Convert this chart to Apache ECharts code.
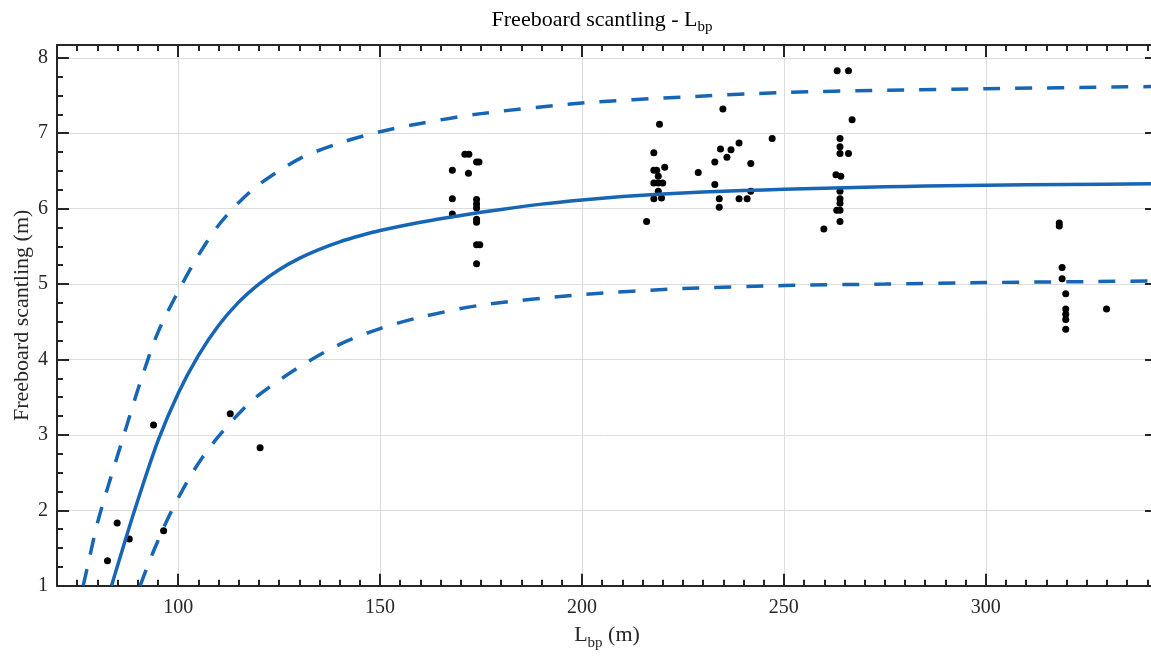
<!DOCTYPE html>
<html>
<head>
<meta charset="utf-8">
<script src="https://cdn.jsdelivr.net/npm/echarts@6/dist/echarts.min.js"></script>
<style>html,body{margin:0;padding:0;background:#fff}#chart{width:1151px;height:659px}</style>
</head>
<body>
<div id="chart"></div>
<script>
// ---- data ----
const lbp = [82.5, 84.9, 87.9, 93.9, 96.4, 112.9, 120.3,
  167.9, 167.9, 167.9, 171.0, 172.0, 171.9, 173.9, 174.5, 173.9, 173.9, 173.9, 173.9, 173.9, 173.9, 174.7, 173.9,
  216.0, 217.8, 219.2, 217.8, 218.5, 220.5, 218.9, 217.8, 218.9, 220.0, 218.9, 217.8, 219.7,
  228.8, 232.9, 232.9, 234.0, 234.0, 234.3, 234.9, 235.9, 236.9, 238.9, 238.9, 240.9, 241.8, 241.8, 247.1,
  259.9, 263.2, 266.0, 266.9, 263.9, 263.9, 263.9, 266.0, 262.9, 264.1, 263.9, 263.9, 263.9, 263.1, 263.9, 263.9,
  318.2, 318.2, 318.9, 318.9, 319.8, 319.8, 319.8, 319.8, 319.8, 329.9];
const freeboard = [1.33, 1.83, 1.62, 3.13, 1.73, 3.28, 2.83,
  6.51, 6.13, 5.93, 6.72, 6.72, 6.47, 6.62, 6.62, 6.12, 6.06, 6.01, 5.86, 5.82, 5.52, 5.52, 5.27,
  5.83, 6.74, 7.12, 6.51, 6.51, 6.55, 6.43, 6.34, 6.34, 6.34, 6.23, 6.13, 6.14,
  6.48, 6.62, 6.32, 6.13, 6.02, 6.79, 7.32, 6.68, 6.78, 6.87, 6.13, 6.13, 6.60, 6.23, 6.93,
  5.73, 7.83, 7.83, 7.18, 6.93, 6.82, 6.73, 6.73, 6.45, 6.43, 6.23, 6.13, 6.07, 5.98, 5.98, 5.83,
  5.81, 5.77, 5.22, 5.07, 4.87, 4.67, 4.60, 4.53, 4.40, 4.67];

const fitX = [83.5, 87, 90, 95, 100, 105, 110, 115, 120, 125, 130, 135, 140, 145, 150, 160, 170, 180, 190, 200, 210, 220, 230, 240, 250, 260, 270, 280, 290, 300, 320, 342.4];
const fitY = [1.0, 1.62, 2.13, 2.92, 3.55, 4.05, 4.45, 4.76, 5.0, 5.19, 5.34, 5.46, 5.56, 5.64, 5.71, 5.82, 5.91, 5.99, 6.06, 6.115, 6.16, 6.195, 6.22, 6.24, 6.256, 6.27, 6.283, 6.294, 6.303, 6.31, 6.32, 6.33];

const upperX = [76.5, 78, 80, 83, 86, 88, 91, 95, 100, 105, 110, 115, 120, 130, 140, 150, 160, 175, 200, 225, 250, 275, 300, 342.4];
const upperY = [1.0, 1.36, 1.83, 2.38, 2.9, 3.25, 3.76, 4.36, 4.9, 5.38, 5.78, 6.08, 6.32, 6.66, 6.87, 7.02, 7.13, 7.26, 7.4, 7.48, 7.54, 7.57, 7.59, 7.62];

const lowerX = [90.6, 92, 94, 96, 98, 100, 103, 106, 110, 115, 120, 130, 140, 150, 160, 175, 200, 225, 250, 275, 300, 342.4];
const lowerY = [1.0, 1.2, 1.47, 1.72, 1.95, 2.16, 2.45, 2.7, 2.98, 3.28, 3.53, 3.9, 4.2, 4.41, 4.56, 4.72, 4.86, 4.94, 4.98, 5.0, 5.02, 5.04];

const xMajorTicks = [100, 150, 200, 250, 300];
const xRange = [70, 342.4];
const yRange = [1, 8.17];

// ---- styling ----
const FONT = "'Liberation Serif', 'Times New Roman', serif";
const AX = '#262626';
const BLUE = '#1766b5';
const zip = (a, b) => a.map((v, i) => [v, b[i]]);

const richLabel = {
  a: { fontFamily: FONT, fontSize: 22, color: AX, fontWeight: 'normal' },
  s: { fontFamily: FONT, fontSize: 15, color: AX, fontWeight: 'normal', padding: [15, 0, 0, 0] }
};

function xAxisDef(pos, major, withLabels) {
  const d = {
    type: 'value', position: pos, min: xRange[0], max: xRange[1],
    axisLine: { show: major, onZero: false, lineStyle: { color: AX, width: 2 } },
    axisTick: { show: true, inside: true, length: major ? 12 : 6, lineStyle: { color: AX, width: 2 } },
    axisLabel: { show: false },
    splitLine: { show: false },
    minorTick: { show: false }
  };
  if (major) {
    d.axisTick.customValues = xMajorTicks;
  } else {
    d.interval = 5;
  }
  if (withLabels) {
    d.axisLabel = { show: true, customValues: xMajorTicks, margin: 12, fontFamily: FONT, fontSize: 20, color: AX };
    d.splitLine = { show: true, lineStyle: { color: '#dcdcdc', width: 1 } };
    d.name = '{a|L}{s|bp}{a| (m)}';
    d.nameLocation = 'middle';
    d.nameGap = 35;
    d.nameMoveOverlap = false;
    d.nameTextStyle = { rich: richLabel };
  }
  return d;
}

function yAxisDef(pos, withLabels) {
  const d = {
    type: 'value', position: pos, min: yRange[0], max: yRange[1], interval: 1,
    axisLine: { show: true, onZero: false, lineStyle: { color: AX, width: 2 } },
    axisTick: { show: true, inside: true, length: 12, lineStyle: { color: AX, width: 2 } },
    minorTick: { show: true, splitNumber: 4, length: 6, lineStyle: { color: AX, width: 2 } },
    axisLabel: { show: false },
    splitLine: { show: false }
  };
  if (withLabels) {
    d.axisLabel = { show: true, margin: 9, fontFamily: FONT, fontSize: 20, color: AX, showMaxLabel: false };
    d.splitLine = { show: true, lineStyle: { color: '#dcdcdc', width: 1 } };
    d.name = 'Freeboard scantling (m)';
    d.nameLocation = 'middle';
    d.nameGap = 24;
    d.nameMoveOverlap = false;
    d.nameTextStyle = { fontFamily: FONT, fontSize: 22, color: AX };
  }
  return d;
}

const lineSeries = (xs, ys, dashed) => ({
  type: 'line', xAxisIndex: 0, yAxisIndex: 0, data: zip(xs, ys), smooth: 0.3,
  showSymbol: false, silent: true, z: 3,
  lineStyle: { color: BLUE, width: 3.5, type: dashed ? [17, 15] : 'solid' }
});

const chart = echarts.init(document.getElementById('chart'), null, { renderer: 'canvas' });
chart.setOption({
  animation: false,
  backgroundColor: '#ffffff',
  title: {
    text: '{a|Freeboard scantling - L}{s|bp}',
    left: 597, top: 0, textAlign: 'center',
    textStyle: { fontWeight: 'normal', rich: {
      a: { fontFamily: FONT, fontSize: 22, color: '#000', fontWeight: 'normal' },
      s: { fontFamily: FONT, fontSize: 15, color: '#000', fontWeight: 'normal', padding: [15, 0, 0, 0] }
    } }
  },
  grid: { left: 57, right: -6, top: 45, bottom: 73.3, containLabel: false, outerBoundsMode: 'none' },
  xAxis: [
    xAxisDef('bottom', true, true),
    xAxisDef('bottom', false, false),
    xAxisDef('top', true, false),
    xAxisDef('top', false, false)
  ],
  yAxis: [
    yAxisDef('left', true),
    yAxisDef('right', false)
  ],
  series: [
    {
      type: 'scatter', xAxisIndex: 0, yAxisIndex: 0, data: zip(lbp, freeboard),
      symbol: 'circle', symbolSize: 7, itemStyle: { color: '#000', opacity: 1 }, silent: true, z: 2
    },
    lineSeries(fitX, fitY, false),
    lineSeries(upperX, upperY, true),
    lineSeries(lowerX, lowerY, true)
  ]
});
</script>
</body>
</html>
